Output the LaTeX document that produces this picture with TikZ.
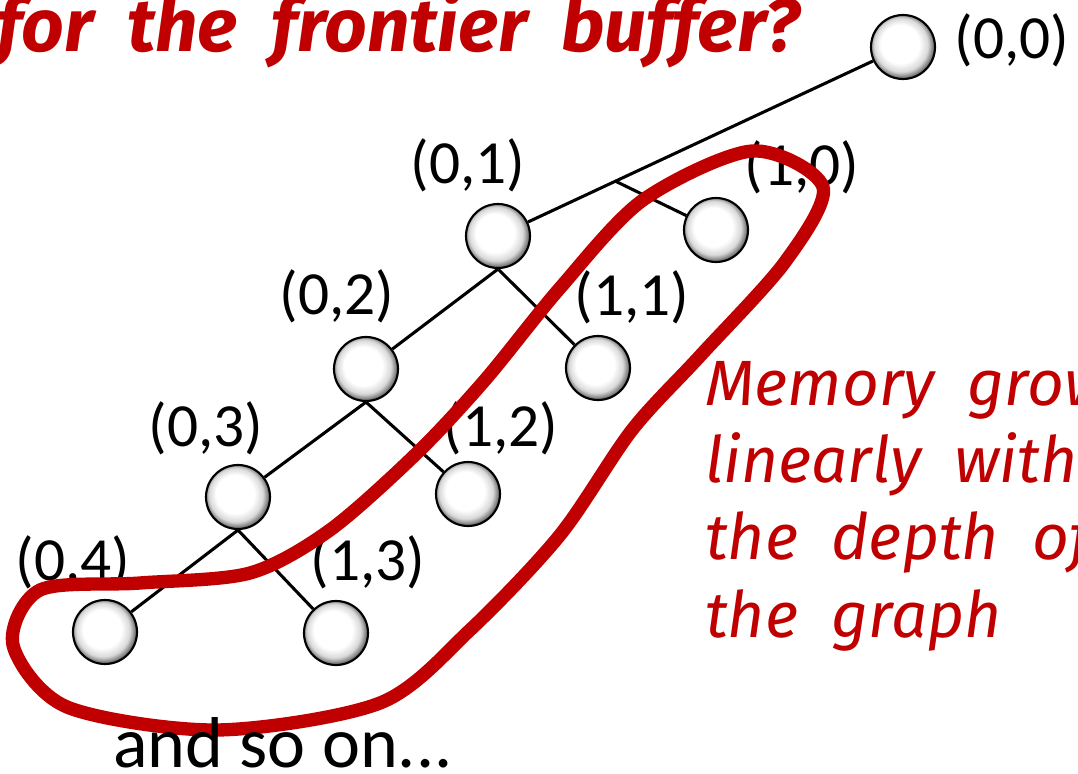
\documentclass[tikz,border=0pt]{standalone}
\usepackage{fontspec}
\setmainfont{Carlito}
\newfontfamily\handfont{Fira Sans}[WordSpace=1.6]
\newfontfamily\askfont{Fira Sans}[WordSpace=2]
\usepackage{xcolor}
\usetikzlibrary{calc}
\definecolor{slidered}{HTML}{C00000}
\pgfdeclareradialshading{sphere}{\pgfpoint{-4bp}{4bp}}{%
  color(0bp)=(white); color(15bp)=(white); color(21bp)=(black!15);
  color(25bp)=(black!55); color(30bp)=(black!90); color(35bp)=(black)}

\begin{document}
\begin{tikzpicture}[x=0.75pt, y=-0.75pt,
  ball/.style     = {circle, draw=black, line width=1.6pt, shading=sphere,
                     minimum size=48pt, inner sep=0pt},
  lbl/.style      = {inner sep=0pt, font=\fontsize{46}{55}\selectfont},
  edge/.style     = {black, line width=2.3pt},
  hull/.style     = {draw=slidered, line width=10pt, line join=round},
  note/.style     = {inner sep=0pt, align=left, text=slidered,
                     font=\handfont\itshape\fontsize{48}{58}\selectfont},
  headline/.style = {inner sep=0pt, text=slidered,
                     font=\askfont\bfseries\itshape\fontsize{56}{64}\selectfont}
]
\useasboundingbox (0,0) rectangle (1078,774);
\clip (0,0) rectangle (1078,774);

% the tree
\node[ball] (n00) at (903,47)  {};
\node[ball] (n01) at (498,236) {};
\node[ball] (n10) at (716,230) {};
\node[ball] (n02) at (366,369) {};
\node[ball] (n11) at (598,368) {};
\node[ball] (n03) at (238,497) {};
\node[ball] (n12) at (468,494) {};
\node[ball] (n04) at (105,632) {};
\node[ball] (n13) at (336,633) {};

\coordinate (br) at ($(n00)!0.71!(n01)$);

\node[lbl] (l00) at (1012,40)  {(0,0)};
\node[lbl] (l01) at (468,165)  {(0,1)};
\node[lbl] (l10) at (802,167)  {(1,0)};
\node[lbl] (l02) at (337,296)  {(0,2)};
\node[lbl] (l11) at (632,297)  {(1,1)};
\node[lbl] (l03) at (206,428)  {(0,3)};
\node[lbl] (l12) at (501,428)  {(1,2)};
\node[lbl] (l04) at (73,562)   {(0,4)};
\node[lbl] (l13) at (368,562)  {(1,3)};

\draw[edge] (n00) -- (n01);
\draw[edge] (br) -- (n10);
\draw[edge] (n01.south) -- (n02);
\draw[edge] (n01.south) -- (n11);
\draw[edge] (n02.south) -- (n03);
\draw[edge] (n02.south) -- (n12);
\draw[edge] (n03.south) -- (n04);
\draw[edge] (n03.south) -- (n13);

% frontier outline
\draw[hull] plot[smooth cycle, tension=0.5] coordinates {
  (40,590) (140,583) (250,573) (330,530) (417,453) (485,380) (560,288)
  (643,200) (752,151) (823,187) (785,262) (700,356) (632,430) (560,535)
  (470,630) (380,703) (217,730) (67,707) (13,645)};

\node[lbl, anchor=base, font=\fontsize{54}{64}\selectfont] (more) at (283,767) {and so on...};
\node[headline, anchor=base west] (ask) at (-4,52) {for the frontier buffer?};
\node[note, anchor=base west] (memo) at (705,637)
  {Memory grows\\linearly with\\the depth of\\the graph};
\end{tikzpicture}
\end{document}
